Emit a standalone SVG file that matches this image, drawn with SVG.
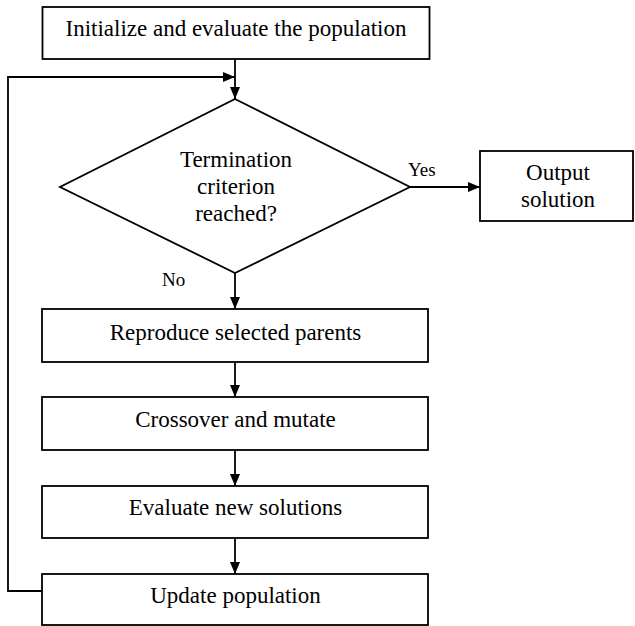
<svg xmlns="http://www.w3.org/2000/svg" width="635" height="626" viewBox="0 0 635 626">
<style>
.box{fill:#fff;stroke:#000;stroke-width:1.8}
.c{fill:none;stroke:#000;stroke-width:1.8}
</style>
<defs>
<marker id="ah" markerUnits="userSpaceOnUse" markerWidth="13" markerHeight="11" refX="12" refY="5" orient="auto">
<path d="M0,0 L12,5 L0,10 Z" fill="#000"/>
</marker>
</defs>
<rect width="635" height="626" fill="#fff"/>
<g id="connectors">
<line class="c" x1="235" y1="59" x2="235" y2="99" marker-end="url(#ah)"/>
<path class="c" d="M42,591 H8 V77 H235" marker-end="url(#ah)"/>
<line class="c" x1="410" y1="187" x2="480" y2="187" marker-end="url(#ah)"/>
<line class="c" x1="235" y1="273" x2="235" y2="309" marker-end="url(#ah)"/>
<line class="c" x1="235" y1="362" x2="235" y2="397" marker-end="url(#ah)"/>
<line class="c" x1="235" y1="450" x2="235" y2="486" marker-end="url(#ah)"/>
<line class="c" x1="235" y1="538" x2="235" y2="574" marker-end="url(#ah)"/>
<g font-family="'Liberation Serif', 'DejaVu Serif', serif" font-size="19" fill="#000">
<text x="408" y="176">Yes</text>
<text x="162" y="286">No</text>
</g>
</g>
<g font-family="'Liberation Serif', 'DejaVu Serif', serif" font-size="23" fill="#000" text-anchor="middle">
<g id="init">
<rect class="box" x="42.5" y="7" width="387" height="52"/>
<text x="236" y="36">Initialize and evaluate the population</text>
</g>
<g id="decision">
<polygon class="box" points="235,99 410,187 235,273 60,187"/>
<text x="236" y="167">Termination</text>
<text x="236" y="194">criterion</text>
<text x="236" y="221">reached?</text>
</g>
<g id="output">
<rect class="box" x="480" y="151" width="153" height="70"/>
<text x="558" y="180">Output</text>
<text x="558" y="207">solution</text>
</g>
<g id="reproduce">
<rect class="box" x="42" y="309" width="386" height="53"/>
<text x="235.5" y="340">Reproduce selected parents</text>
</g>
<g id="crossover">
<rect class="box" x="42" y="397" width="386" height="53"/>
<text x="235.5" y="427">Crossover and mutate</text>
</g>
<g id="evaluate">
<rect class="box" x="42" y="486" width="386" height="52"/>
<text x="235.5" y="515">Evaluate new solutions</text>
</g>
<g id="update">
<rect class="box" x="42" y="574" width="386" height="51"/>
<text x="235.5" y="603">Update population</text>
</g>
</g>
</svg>
